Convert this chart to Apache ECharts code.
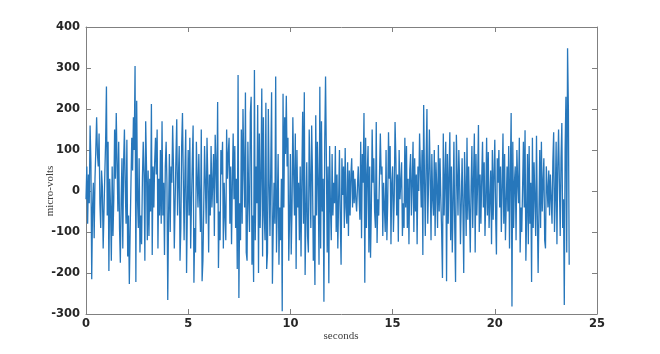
<!DOCTYPE html>
<html>
<head>
<meta charset="utf-8">
<script src="https://cdn.jsdelivr.net/npm/echarts@6/dist/echarts.min.js"></script>
<style>
html,body{margin:0;padding:0;background:#fff;}
#chart{width:660px;height:354px;}
</style>
</head>
<body>
<div id="chart"></div>
<script>
// sample spacing in seconds
const sampleStep = 0.04;

// micro-volt values, one array per second of recording
const sec00 = [-20, 60, -80, 40, -30, 160, 70, -215, -40, 20, -115, 30, 100, 180, 90, 60, 140, -30, -90, 50, 10, -140, -50, 40, 120];
const sec01 = [255, -60, 120, -195, 30, -40, -170, 60, -110, -20, 150, 30, 190, 70, -50, 120, -90, -175, -20, 80, -140, 70, 150, 10, -80];
const sec02 = [125, -160, -60, -227, -100, 20, 130, 50, 180, 100, 305, -222, 220, -20, -90, 80, -150, -60, -130, 30, 120, 40, -170, 170, 60];
const sec03 = [-120, 50, -110, 30, -50, 212, -156, 60, -40, 70, 130, 40, 150, -140, 30, -60, 100, -80, 170, -60, 20, -156, 60, 120, 20];
const sec04 = [-266, -60, 90, -100, 60, 20, 160, 60, -140, -30, 80, 175, -60, 30, 110, -170, -90, 110, 190, 30, -120, 40, 150, -200, -40];
const sec05 = [100, -60, 130, -140, -30, 70, 160, -224, -90, -150, 120, 30, -40, 90, -20, -100, 150, -220, -170, -40, 110, 20, -80, 130, 30];
const sec06 = [-150, 40, -60, 110, -40, 20, 90, -110, 137, 60, -30, 217, -188, -50, -120, 100, 40, 120, -140, 20, -60, -120, 150, 30, 90];
const sec07 = [130, -80, 60, -130, 20, 140, -20, 110, -90, 30, -190, 283, -261, -30, -120, 150, -80, 200, 60, -40, 240, -150, -170, 120, -20];
const sec08 = [-100, 190, 230, -180, -60, -222, 295, -120, 60, -30, 210, -200, 140, -90, 40, 250, -160, 180, -60, -120, 215, -190, -150, 200, 20];
const sec09 = [-110, 60, 241, -226, -90, 20, -80, 279, -150, -30, 90, -180, -40, -120, 30, -293, 237, -40, 180, 90, 232, 60, 130, -170, -60];
const sec10 = [90, -155, -40, 180, 40, -60, 140, -190, 100, -40, 20, -120, 60, -160, 30, 193, -80, 241, -205, -60, 70, -110, -150, 150, 30];
const sec11 = [-90, 160, 40, -170, -60, -229, 185, -60, 120, 20, -180, 254, -140, 170, -50, 30, -270, 120, 279, 80, -150, 60, -225, 110, -40];
const sec12 = [-120, 90, -60, 20, -30, 110, -100, 40, -140, -20, 100, -70, -180, 80, -10, 60, -90, 105, -40, -80, 70, -110, 50, -60, 40];
const sec13 = [80, -40, 50, -30, 30, -20, -50, 10, 60, -10, -70, 120, -115, 90, 20, 190, -224, 130, -90, 40, 110, -150, 60, -163, -40];
const sec14 = [150, 20, 80, -50, -90, 168, -127, -20, -60, 40, 140, 40, 60, -110, 20, -40, -100, 100, -120, -30, 143, 30, 110, -130, 20];
const sec15 = [60, -100, -20, 168, 80, -60, 40, -124, 100, -20, 20, 70, -110, -30, -90, 130, -40, 110, -90, 30, -130, 50, 90, -60, 20];
const sec16 = [120, -100, 80, -50, 40, -130, 60, 0, 140, 50, -40, 100, -156, 210, 30, -110, 70, 200, -80, 20, 150, 40, -120, 90, -20];
const sec17 = [-60, 100, -110, 70, 10, -90, 112, -50, 80, -20, -100, -212, 140, -60, 30, 120, -220, 90, -80, 40, 143, -120, 60, -150, -30];
const sec18 = [120, -90, -222, 137, 40, -60, 100, 20, -130, -30, 80, -40, -200, 95, 10, -110, 130, -70, 60, -40, -150, 10, 110, -90, 30];
const sec19 = [140, -150, 90, -60, 20, 161, -100, 40, -80, 30, 120, -40, 70, -110, -20, 130, -60, 95, -90, -20, 50, -130, 100, -70, 40];
const sec20 = [125, -60, -155, 80, 20, 100, -40, 60, -100, 10, 140, -80, 90, -120, -30, 60, -50, 110, -140, 40, 190, -282, 120, -90, 20];
const sec21 = [60, -120, 100, 20, -30, 130, -150, -40, -100, 10, 120, -40, 148, -170, -60, 90, -130, 110, -80, 20, -222, 130, -90, 70, -20];
const sec22 = [-110, 135, -60, -200, -50, 100, -90, 120, -50, 20, 80, -120, -140, 60, 10, -40, 50, -60, 40, -20, -80, 70, 143, -100, -20];
const sec23 = [120, -130, 60, 150, 20, -110, 80, 166, -90, -20, -278, 100, 230, -150, 348, 200, -180];

// axis ticks
const xTicks = [0, 5, 10, 15, 20, 25];
const yTicks = [-300, -200, -100, 0, 100, 200, 300, 400];

const allValues = [].concat(sec00, sec01, sec02, sec03, sec04, sec05, sec06, sec07,
  sec08, sec09, sec10, sec11, sec12, sec13, sec14, sec15, sec16, sec17, sec18, sec19,
  sec20, sec21, sec22, sec23);
const seriesData = allValues.map((v, i) => [+(i * sampleStep).toFixed(2), v]);

const axisColor = '#808080';
const labelStyle = { color: '#262626', fontWeight: 'bold', fontSize: 11.5, fontFamily: 'DejaVu Sans' };
const nameFont = '11px "Liberation Serif"';

function boxAxis(base, pos) {
  return Object.assign({
    position: pos,
    axisLine: { show: true, onZero: false, lineStyle: { color: axisColor, width: 1 } },
    axisTick: { show: true, inside: true, length: 5, lineStyle: { color: axisColor } },
    splitLine: { show: false }
  }, base);
}

const chart = echarts.init(document.getElementById('chart'), null, { renderer: 'canvas' });
chart.setOption({
  animation: false,
  backgroundColor: '#ffffff',
  grid: { left: 86, right: 63, top: 27, bottom: 40 },
  xAxis: [
    boxAxis({
      type: 'value', min: xTicks[0], max: xTicks[xTicks.length - 1], interval: 5,
      axisLabel: Object.assign({ margin: 4 }, labelStyle)
    }, 'bottom'),
    boxAxis({
      type: 'value', min: xTicks[0], max: xTicks[xTicks.length - 1], interval: 5,
      axisLabel: { show: false }
    }, 'top')
  ],
  yAxis: [
    boxAxis({
      type: 'value', min: yTicks[0], max: yTicks[yTicks.length - 1], interval: 100,
      axisLabel: Object.assign({ margin: 6 }, labelStyle)
    }, 'left'),
    boxAxis({
      type: 'value', min: yTicks[0], max: yTicks[yTicks.length - 1], interval: 100,
      axisLabel: { show: false }
    }, 'right')
  ],
  graphic: [
    { type: 'text', x: 341, y: 336,
      style: { text: 'seconds', font: nameFont, fill: '#404040', align: 'center', verticalAlign: 'middle' } },
    { type: 'text', x: 50, y: 191, rotation: Math.PI / 2,
      style: { text: 'micro-volts', font: nameFont, fill: '#404040', align: 'center', verticalAlign: 'middle' } }
  ],
  series: [{
    type: 'line',
    xAxisIndex: 0, yAxisIndex: 0,
    data: seriesData,
    showSymbol: false,
    sampling: null,
    lineStyle: { color: '#2777bb', width: 1.3 },
    itemStyle: { color: '#2777bb' }
  }]
});
</script>
</body>
</html>
